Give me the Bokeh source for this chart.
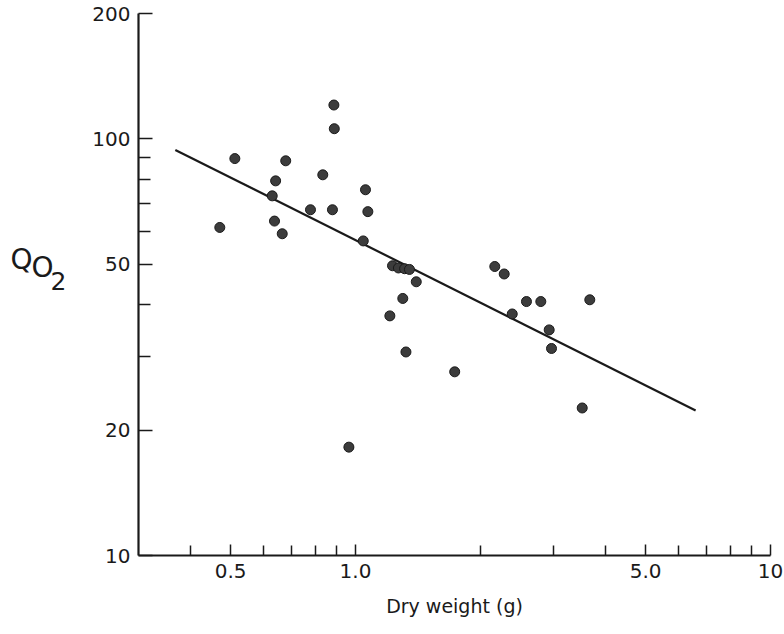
from bokeh.plotting import figure
from bokeh.layouts import row
from bokeh.models import Range1d, FixedTicker, CustomJSTickFormatter
from bokeh.core.properties import value
from bokeh.embed import file_html
from bokeh.resources import INLINE

# Dry weight (g) and QO2 values
dry_weight = [0.887, 0.889, 0.512, 0.679, 0.834, 0.642, 1.057, 0.630, 0.779, 0.880,
              1.071, 0.471, 0.638, 0.666, 1.044, 1.228, 1.269, 1.313, 1.349, 1.401,
              1.300, 1.210, 1.323, 1.734, 0.964, 2.166, 2.282, 2.582, 2.796, 2.386,
              2.929, 2.967, 3.669, 3.518]
qo2 = [120.6, 105.8, 89.7, 88.6, 82.0, 79.3, 75.5, 73.0, 67.6, 67.6,
       66.9, 61.3, 63.5, 59.2, 56.9, 49.6, 49.0, 48.8, 48.6, 45.4,
       41.4, 37.6, 30.8, 27.6, 18.2, 49.4, 47.4, 40.7, 40.7, 38.0,
       34.8, 31.4, 41.1, 22.6]

# Regression line end points
fit_x = [0.368, 6.6]
fit_y = [94.1, 22.3]

x_major = [0.5, 1.0, 5.0, 10.0]
x_minor = [0.4, 0.6, 0.7, 0.8, 0.9, 2.0, 3.0, 4.0, 6.0, 7.0, 8.0, 9.0]
y_major = [10, 20, 50, 100, 200]
y_minor = [30, 40, 60, 70, 80, 90]

# Y-axis title pieces: "Q" with a subscript "O2"
ytitle_text = ["Q", "O", "2"]
ytitle_size = ["28px", "28px", "25px"]

FONT = "DejaVu Sans"
INK = "#1a1a1a"
H = 626
LEFT_W = 68

# ---- narrow panel that holds the y-axis title ----
t = figure(frame_width=LEFT_W, frame_height=H,
           x_range=Range1d(0, LEFT_W), y_range=Range1d(H, 0),
           output_backend="svg", toolbar_location=None,
           x_axis_location=None, y_axis_location=None,
           min_border=0, min_border_left=0, min_border_right=0,
           min_border_top=0, min_border_bottom=0)
t.outline_line_color = None
t.xgrid.visible = False
t.ygrid.visible = False
title_x = [21, 42, 58]
title_y = [246, 254, 267]
for tx, ty, tt, ts in zip(title_x, title_y, ytitle_text, ytitle_size):
    t.text(x=[tx], y=[ty], text=[tt], text_font=value(FONT), text_font_size=value(ts),
           text_color=INK, text_align="center", text_baseline="middle")

# ---- main log-log chart ----
p = figure(frame_width=632, frame_height=542,
           x_axis_type="log", y_axis_type="log",
           x_range=Range1d(0.3, 10), y_range=Range1d(10, 200),
           output_backend="svg", toolbar_location=None,
           min_border_left=138 - LEFT_W, min_border_top=13,
           min_border_right=14, min_border_bottom=H - 13 - 542,
           background_fill_color="white", border_fill_color="white")
p.outline_line_color = None
p.xgrid.visible = False
p.ygrid.visible = False

p.line(fit_x, fit_y, line_color=INK, line_width=2.2)
p.scatter(dry_weight, qo2, size=10, fill_color="#3c3c3c", line_color=INK, line_width=1)

for ax in (p.xaxis[0], p.yaxis[0]):
    ax.axis_line_color = INK
    ax.axis_line_width = 2.2
    ax.major_tick_line_color = INK
    ax.minor_tick_line_color = INK
    ax.major_tick_line_width = 1.5
    ax.minor_tick_line_width = 1.5
    ax.major_tick_out = 0
    ax.minor_tick_out = 0
    ax.major_label_text_font = FONT
    ax.major_label_text_font_size = "20px"
    ax.major_label_text_color = INK
    ax.major_label_standoff = 8

p.xaxis.ticker = FixedTicker(ticks=x_major, minor_ticks=x_minor)
p.yaxis.ticker = FixedTicker(ticks=y_major, minor_ticks=y_minor)
p.xaxis.formatter = CustomJSTickFormatter(
    code="return tick >= 10 ? tick.toFixed(0) : tick.toFixed(1);")
p.yaxis.formatter = CustomJSTickFormatter(code="return tick.toFixed(0);")

p.xaxis.major_tick_in = 11
p.xaxis.minor_tick_in = 10
p.yaxis.major_tick_in = 14
p.yaxis.minor_tick_in = 12

p.xaxis.axis_label = "Dry weight (g)"
p.xaxis.axis_label_text_font = FONT
p.xaxis.axis_label_text_font_size = "19px"
p.xaxis.axis_label_text_font_style = "normal"
p.xaxis.axis_label_text_color = INK
p.xaxis.axis_label_standoff = 14

layout = row(t, p, spacing=0)
open("out.html", "w").write(file_html(layout, INLINE))
